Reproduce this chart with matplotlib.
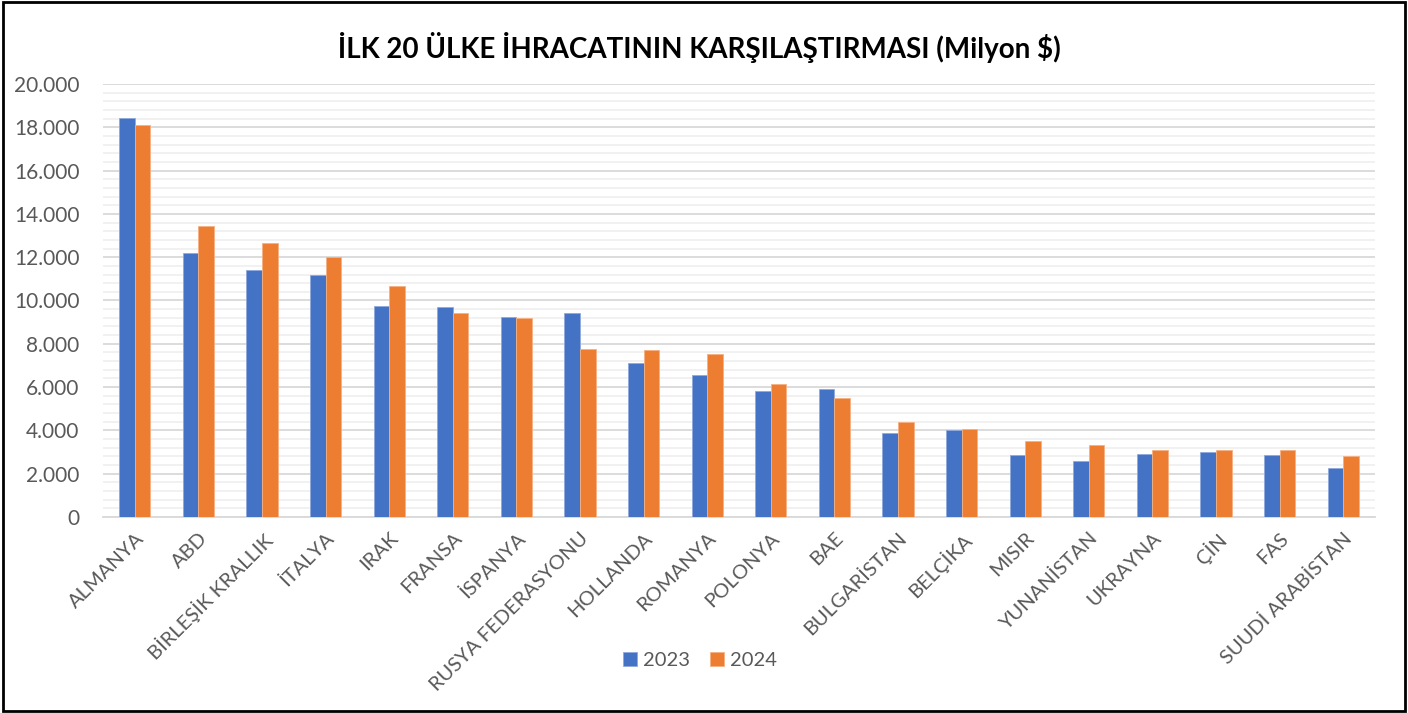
import matplotlib
matplotlib.use('Agg')
import matplotlib.pyplot as plt
import numpy as np
from matplotlib.ticker import MultipleLocator, FuncFormatter
from matplotlib.patches import Rectangle

ulkeler = ['ALMANYA', 'ABD', 'BİRLEŞİK KRALLIK', 'İTALYA', 'IRAK', 'FRANSA',
           'İSPANYA', 'RUSYA FEDERASYONU', 'HOLLANDA', 'ROMANYA', 'POLONYA',
           'BAE', 'BULGARİSTAN', 'BELÇİKA', 'MISIR', 'YUNANİSTAN', 'UKRAYNA',
           'ÇİN', 'FAS', 'SUUDİ ARABİSTAN']
ihracat_2023 = [18450, 12190, 11430, 11190, 9740, 9710, 9260, 9400, 7120, 6550,
                5800, 5910, 3860, 4030, 2880, 2600, 2910, 3020, 2880, 2260]
ihracat_2024 = [18090, 13420, 12660, 11990, 10680, 9400, 9190, 7770, 7710, 7520,
                6140, 5510, 4400, 4050, 3510, 3310, 3110, 3110, 3080, 2830]
yillar = ['2023', '2024']

plt.rcParams['font.family'] = ['Lato', 'DejaVu Sans']

fig = plt.figure(figsize=(14.08, 7.13), dpi=100)
ax = fig.add_axes([0.0732, 0.2749, 0.9034, 0.6073])

x = np.arange(len(ulkeler))
w = 0.245
ax.bar(x - w / 2, ihracat_2023, w, color='#4472C4', edgecolor='#8faadc', linewidth=0.6,
       label=yillar[0], zorder=3)
ax.bar(x + w / 2, ihracat_2024, w, color='#ED7D31', edgecolor='#f4b183', linewidth=0.6,
       label=yillar[1], zorder=3)

ax.set_xlim(-0.5, len(ulkeler) - 0.5)
ax.set_ylim(0, 20000)
ax.yaxis.set_major_locator(MultipleLocator(2000))
ax.yaxis.set_minor_locator(MultipleLocator(400))
ax.yaxis.set_major_formatter(FuncFormatter(lambda v, p: f'{int(v):,}'.replace(',', '.')))
ax.grid(axis='y', which='major', color='#d9d9d9', linewidth=1.3, zorder=0)
ax.grid(axis='y', which='minor', color='#f0f0f0', linewidth=1.3, zorder=0)

for s in ['top', 'right', 'left']:
    ax.spines[s].set_visible(False)
ax.spines['bottom'].set_color('#d9d9d9')
ax.spines['bottom'].set_linewidth(1.3)

ax.tick_params(axis='y', which='both', length=0, pad=17, labelsize=15, labelcolor='#595959')
ax.tick_params(axis='x', length=0, pad=9)
ax.set_xticks(x)
ax.set_xticklabels(ulkeler, rotation=45, ha='right', rotation_mode='anchor',
                   fontsize=14.5, color='#595959')

fig.text(0.497, 0.934, 'İLK 20 ÜLKE İHRACATININ KARŞILAŞTIRMASI (Milyon $)',
         ha='center', va='center', fontsize=20, fontweight='bold', color='black')

fig.legend(loc='center', bbox_to_anchor=(0.497, 0.073), ncol=2, frameon=False,
           fontsize=14.5, handlelength=0.7, handleheight=0.7, handletextpad=0.3,
           columnspacing=1.0, labelcolor='#595959')

fig.patches.append(Rectangle((0.002, 0.003), 0.996, 0.994, transform=fig.transFigure,
                             fill=False, edgecolor='black', linewidth=2))

fig.savefig('out.png', dpi=100)
